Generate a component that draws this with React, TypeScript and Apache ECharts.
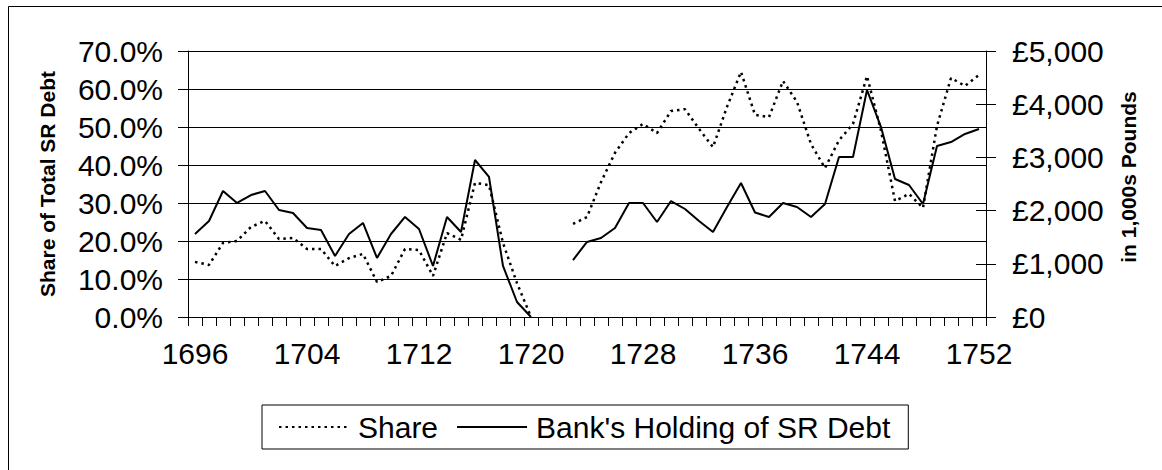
import React, { useEffect, useRef } from "react";
import * as echarts from "echarts";

const years = [
  "1696", "1697", "1698", "1699", "1700", "1701", "1702", "1703", "1704", "1705",
  "1706", "1707", "1708", "1709", "1710", "1711", "1712", "1713", "1714", "1715",
  "1716", "1717", "1718", "1719", "1720", "1721", "1722", "1723", "1724", "1725",
  "1726", "1727", "1728", "1729", "1730", "1731", "1732", "1733", "1734", "1735",
  "1736", "1737", "1738", "1739", "1740", "1741", "1742", "1743", "1744", "1745",
  "1746", "1747", "1748", "1749", "1750", "1751", "1752",
];

// Share of total SR debt (%)
const share = [
  14.5, 13.7, 19.5, 20.0, 23.7, 25.3, 20.5, 20.8, 17.9, 17.9,
  13.4, 15.5, 16.6, 9.2, 10.8, 17.9, 17.6, 10.8, 22.1, 20.3,
  35.3, 34.7, 19.5, 8.9, 0, null, null, 24.5, 26.3, 35.5,
  43.2, 48.4, 50.8, 48.4, 54.2, 54.7, 49.5, 44.7, 55.3, 64.5,
  53.2, 52.6, 62.1, 56.6, 45.5, 39.2, 46.5, 50.8, 63.4, 49.0,
  30.5, 32.4, 28.7, 50.3, 62.9, 60.8, 63.7,
];

// Bank's holding of SR debt (in 1,000s pounds)
const holding = [
  1560, 1805, 2368, 2143, 2293, 2368, 2011, 1955, 1673, 1635,
  1147, 1560, 1767, 1109, 1560, 1880, 1654, 959, 1880, 1598,
  2951, 2632, 959, 282, 0, null, null, 1071, 1410, 1485,
  1673, 2143, 2143, 1786, 2180, 2030, 1805, 1598, 2068, 2519,
  1965, 1880, 2143, 2068, 1880, 2124, 3008, 3008, 4267, 3571,
  2594, 2481, 2124, 3214, 3289, 3440, 3534,
];

const seriesNames = ["Share", "Bank's Holding of SR Debt"];
const leftTitle = "Share of Total SR Debt";
const rightTitle = "in 1,000s Pounds";

const FONT = "'Liberation Sans', Arial, sans-serif";

function fmtPounds(v: number): string {
  return "£" + String(v).replace(/\B(?=(\d{3})+(?!\d))/g, ",");
}

export default function App() {
  const ref = useRef<HTMLDivElement>(null);
  useEffect(() => {
    document.body.style.margin = "0";
    if (!ref.current) return;
    const chart = echarts.init(ref.current, undefined, { renderer: "svg" });
    const labelStyle = { color: "#000", fontSize: 30, fontFamily: FONT };
    chart.setOption({
      animation: false,
      backgroundColor: "#fff",
      textStyle: { fontFamily: FONT },
      grid: { left: 188, right: 176, top: 51, bottom: 153, containLabel: false },
      legend: {
        left: 262,
        top: 405,
        orient: "horizontal",
        itemWidth: 70,
        itemHeight: 14,
        itemGap: 18,
        padding: [7, 18, 7, 16],
        borderColor: "#000",
        borderWidth: 1,
        itemStyle: { opacity: 0, borderWidth: 0 },
        textStyle: { ...labelStyle, padding: [0, 0, 0, 4] },
        data: seriesNames,
      },
      xAxis: {
        type: "category",
        data: years,
        boundaryGap: true,
        axisLine: { show: true, lineStyle: { color: "#000", width: 1 } },
        axisTick: { show: true, interval: 0, length: 9, lineStyle: { color: "#000" } },
        axisLabel: { ...labelStyle, interval: 7, margin: 21 },
        splitLine: { show: false },
      },
      yAxis: [
        {
          type: "value",
          position: "left",
          min: 0,
          max: 70,
          interval: 10,
          axisLine: { show: true, lineStyle: { color: "#000", width: 1 } },
          axisTick: { show: true, length: 10, lineStyle: { color: "#000" } },
          axisLabel: { ...labelStyle, margin: 25, formatter: (v: number) => v.toFixed(1) + "%" },
          splitLine: { show: true, lineStyle: { color: "#000", width: 1 } },
        },
        {
          type: "value",
          position: "right",
          min: 0,
          max: 5000,
          interval: 1000,
          axisLine: { show: true, lineStyle: { color: "#000", width: 1 } },
          axisTick: { show: true, length: 10, lineStyle: { color: "#000" } },
          axisLabel: { ...labelStyle, margin: 26, formatter: (v: number) => fmtPounds(v) },
          splitLine: { show: false },
        },
        {
          type: "value",
          position: "right",
          min: 0,
          max: 5000,
          interval: 1000,
          axisLine: { show: false },
          axisTick: { show: true, inside: true, length: 10, lineStyle: { color: "#000" } },
          axisLabel: { show: false },
          splitLine: { show: false },
        },
      ],
      series: [
        {
          name: seriesNames[0],
          type: "line",
          yAxisIndex: 0,
          data: share,
          symbol: "none",
          connectNulls: false,
          lineStyle: { color: "#000", width: 2.5, type: [2.5, 4] },
          itemStyle: { color: "#000" },
        },
        {
          name: seriesNames[1],
          type: "line",
          yAxisIndex: 1,
          data: holding,
          symbol: "none",
          connectNulls: false,
          lineStyle: { color: "#000", width: 2 },
          itemStyle: { color: "#000" },
        },
      ],
      graphic: [
        {
          type: "rect",
          silent: true,
          z: -1,
          shape: { x: 8.5, y: 6.5, width: 1170, height: 480 },
          style: { fill: "none", stroke: "#000", lineWidth: 1 },
        },
        {
          type: "text",
          x: 47,
          y: 184,
          rotation: Math.PI / 2,
          style: {
            text: leftTitle,
            font: "bold 21px 'Liberation Sans', Arial, sans-serif",
            fill: "#000",
            align: "center",
            verticalAlign: "middle",
            textAlign: "center",
            textVerticalAlign: "middle",
          },
        },
        {
          type: "text",
          x: 1128,
          y: 177,
          rotation: Math.PI / 2,
          style: {
            text: rightTitle,
            font: "bold 21px 'Liberation Sans', Arial, sans-serif",
            fill: "#000",
            align: "center",
            verticalAlign: "middle",
            textAlign: "center",
            textVerticalAlign: "middle",
          },
        },
      ],
    });
    return () => chart.dispose();
  }, []);
  return <div ref={ref} style={{ width: 1162, height: 470 }} />;
}
